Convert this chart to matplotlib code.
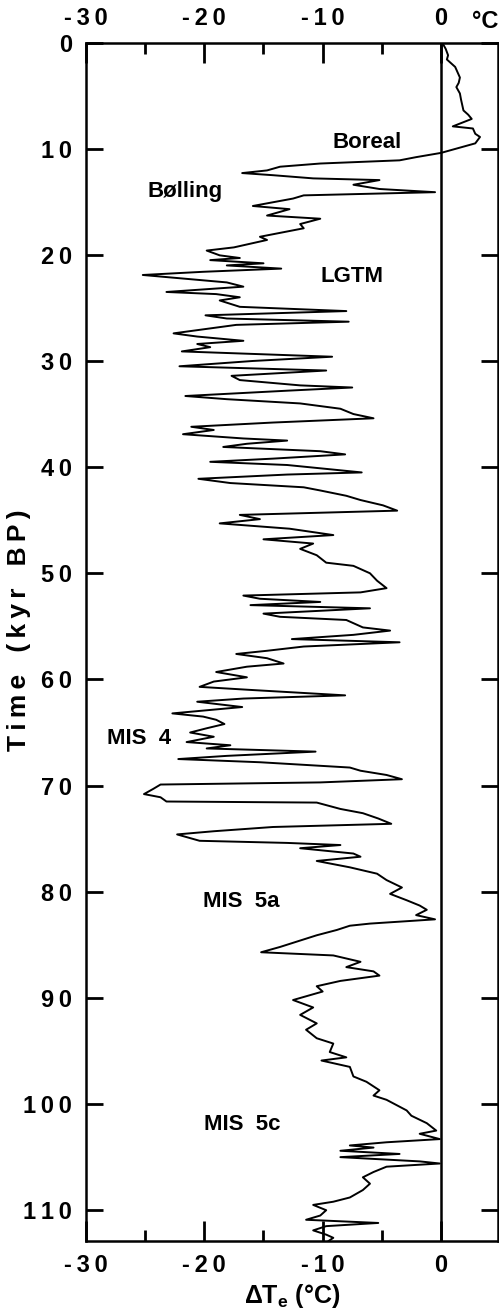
import matplotlib
matplotlib.use("Agg")
import matplotlib.pyplot as plt
from matplotlib.ticker import FixedLocator, FixedFormatter

# ---- data ----
time_kyr = [0.0, 0.6, 1.2, 1.6, 2.3, 2.8, 3.3, 3.8, 4.2, 4.8, 5.4, 5.9, 6.4, 6.8, 7.2, 7.9, 8.1, 8.6, 8.9, 9.5, 10.0, 10.4,
            10.8, 11.1, 11.4, 11.7, 12.05, 12.3, 12.5, 12.8, 12.96, 13.4, 13.8, 14.1, 14.4, 14.7, 15.4, 15.7, 16.3, 16.6,
            17.1, 17.5, 18.3, 18.6, 19.3, 19.6, 20.05, 20.3, 20.5, 20.8, 21.0, 21.3, 21.6, 21.9, 22.4, 22.6, 23.0,
            23.5, 23.7, 24.0, 24.3, 24.9, 25.3, 25.7, 26.0, 26.3, 26.6, 27.4, 27.7, 28.1, 28.4, 28.7, 29.1, 29.6, 30.0,
            30.5, 30.9, 31.4, 31.8, 32.3, 32.5, 32.8, 33.3, 33.6, 34.0, 34.5, 35.0, 35.4, 35.8, 36.2, 36.5, 36.9, 37.3,
            37.5, 37.8, 38.1, 38.5, 38.8, 39.2, 39.5, 39.8, 40.5, 40.7, 41.1, 41.5, 41.9, 42.2, 42.7, 43.1, 43.6, 44.1,
            44.5, 44.9, 45.3, 45.8,
            46.4, 46.8, 47.2, 47.7, 48.3, 49.0, 49.3, 50.0, 50.7, 51.4, 51.8, 52.1, 52.4, 52.7, 53.0, 53.3, 53.8, 54.1,
            54.4, 55.1, 55.4, 55.8, 56.2, 56.5, 56.9, 57.3, 57.6, 58.0, 58.5, 58.8, 59.3, 59.8, 60.2, 60.7, 61.0, 61.5,
            61.8, 62.1, 62.6, 63.2, 63.5, 63.8, 64.2, 64.6, 65.0, 65.4, 65.9, 66.2, 66.5, 66.8, 67.2, 67.5, 67.8, 68.3,
            68.6, 69.0, 69.4, 69.7, 69.9, 70.3, 70.8, 71.1, 71.5, 71.6, 72.2, 72.6, 73.1, 73.6, 73.9, 74.3, 74.6, 75.2,
            75.4, 75.6, 75.9, 76.4, 76.7, 77.1, 77.7, 78.3, 78.9, 79.6, 80.2, 80.8, 81.3, 81.7, 82.2, 82.6, 83.0, 83.2,
            83.6, 84.1, 84.6, 85.2, 85.7, 86.0, 86.6, 87.1, 87.5, 87.9, 88.4, 88.9, 89.4, 90.2, 90.9,
            91.6, 92.4, 93.0, 93.8, 94.3, 95.1, 95.6, 95.9, 96.5, 97.4, 97.9, 98.7, 99.2, 99.6, 100.6, 101.1, 101.8,
            102.5, 102.8, 103.3, 103.6, 103.9, 104.1, 104.4, 104.7, 105.0, 105.4, 105.6, 105.9, 106.4, 106.9, 107.5,
            108.1, 108.8, 109.2, 109.5, 110.0, 110.5, 110.9, 111.2, 111.5, 111.9, 112.3, 112.6, 112.9]
delta_te = [0.1, 0.4, 0.6, 0.5, 1.2, 1.4, 1.6, 1.5, 1.3, 1.6, 1.7, 1.8, 1.9, 2.3, 2.6, 1.0, 2.7, 2.9, 3.3, 2.9, 1.3, 0.0,
            -2.1, -3.5, -10.2, -13.6, -14.7, -16.8, -14.2, -10.8, -5.2, -7.4, -5.2, -0.5, -11.6, -12.5, -15.9, -12.8,
            -14.7, -10.2, -11.9, -11.6, -15.3, -14.7, -17.5, -19.8, -18.7, -17.0, -19.5, -15.0, -18.1, -13.5, -20.1,
            -25.2, -20.1, -18.1, -16.7,
            -23.2, -19.0, -17.0, -18.7, -17.0, -8.0, -19.9, -18.1, -7.8, -17.3, -22.6, -20.6, -16.7, -20.6, -19.5,
            -21.9, -9.2, -15.9, -22.1, -9.7, -17.7, -17.0, -11.9, -7.5, -13.0, -21.6, -18.1, -11.9, -8.5, -7.4, -5.7,
            -14.2, -21.1, -19.2, -21.8, -16.7, -13.0, -16.4, -18.4, -10.2, -8.1, -14.2, -19.5, -13.0, -6.7, -13.0,
            -20.5, -17.8, -11.6, -10.2, -8.0, -6.8, -4.9, -3.7, -17.0, -15.3, -18.7, -12.8,
            -9.1, -15.0, -10.8, -11.9, -10.5, -9.7, -7.4, -6.0, -5.4, -4.6, -6.8, -16.7, -15.3, -10.2, -16.1, -6.0,
            -15.0, -13.6, -8.0, -6.6, -4.3, -7.4, -12.6, -3.5, -11.6, -14.7, -17.3, -14.7, -13.3, -16.4, -19.0, -16.4,
            -19.2, -20.4, -15.9, -8.1, -16.7, -20.6, -16.8, -22.7, -20.1, -19.0, -18.3, -19.8, -21.2, -19.2, -21.5,
            -17.8, -19.8, -10.6, -18.1, -22.2, -15.3, -7.7,
            -6.8, -4.6, -3.3, -10.2, -23.7, -24.3, -25.1, -23.7, -23.2, -10.5, -8.5, -6.6, -5.3, -4.2, -14.2, -19.2,
            -22.3, -20.4, -13.0, -8.5, -11.9, -7.4, -6.8, -10.5, -7.7, -5.4, -4.6, -3.3, -4.3, -2.9, -1.8, -1.2, -2.1,
            -0.5, -6.0, -7.7, -8.8, -10.5, -11.9, -13.6, -15.2, -9.1, -6.8, -8.0, -5.7, -5.2, -8.5, -10.5, -10.0,
            -12.5, -10.8,
            -11.9, -10.5, -11.4, -10.5, -9.1, -9.4, -8.0, -10.1, -7.7, -7.4, -6.3, -5.2, -5.7, -4.6, -2.9, -2.5, -1.2,
            -0.4, -1.8, -0.1, -4.6, -7.7, -5.7, -8.5, -3.5, -8.5, -1.8, -0.1, -4.6, -5.7, -6.6, -6.0, -6.6, -7.7,
            -9.1, -10.8, -9.7, -10.2, -11.4, -5.3, -9.7, -10.8, -9.7, -9.1, -9.5]

x_major = [-30, -20, -10, 0]
x_minor = [-25, -15, -5]
x_labels = ["-30", "-20", "-10", "0"]
y_major = [0, 10, 20, 30, 40, 50, 60, 70, 80, 90, 100, 110]
y_labels = [str(v) for v in y_major]

annotations = [("Boreal", -6.2, 9.4), ("Bølling", -21.6, 14.0), ("LGTM", -7.5, 22.0),
               ("MIS  4", -25.5, 65.6), ("MIS  5a", -16.9, 80.9), ("MIS  5c", -16.8, 101.9)]

FAM = ["Liberation Sans", "DejaVu Sans"]
plt.rcParams["font.family"] = FAM
plt.rcParams["font.weight"] = "bold"

def spaced(s):
    return "\u2009".join(s)

W, H = 499, 1313
fig = plt.figure(figsize=(W / 100, H / 100), dpi=100)
left, right = 86 / W, 498 / W
top, bottom = 1 - 42.5 / H, 1 - 1241 / H
ax = fig.add_axes([left, bottom, right - left, top - bottom])

ax.plot(delta_te, time_kyr, color="black", lw=1.4)
ax.axvline(0, color="black", lw=1.8)

ax.set_xlim(-30, 4.82)
ax.set_ylim(112.9, 0)

for s in ax.spines.values():
    s.set_linewidth(1.8)

ax.xaxis.set_major_locator(FixedLocator(x_major))
ax.xaxis.set_major_formatter(FixedFormatter([spaced(l) for l in x_labels]))
ax.xaxis.set_minor_locator(FixedLocator(x_minor))
ax.yaxis.set_major_locator(FixedLocator(y_major))
ax.yaxis.set_major_formatter(FixedFormatter([spaced(l) for l in y_labels]))

ax.tick_params(axis="x", which="major", direction="in", length=14.5, width=2.0, top=True, bottom=True,
               labeltop=True, labelbottom=True, labelsize=17, pad=9)
ax.tick_params(axis="x", which="minor", direction="in", length=8, width=2.0, top=True, bottom=True)
ax.tick_params(axis="y", which="major", direction="in", length=12.5, width=2.0, left=True, right=True,
               labelleft=True, labelright=False, labelsize=17, pad=10)

for lab in ax.get_xticklabels() + ax.get_yticklabels():
    lab.set_fontweight("bold")

for txt, x, y in annotations:
    ax.text(x, y, txt, ha="center", va="center", fontsize=16, fontweight="bold")

fig.text(485 / W, 1 - 21 / H, "\u00b0C", ha="center", va="center", fontsize=17, fontweight="bold")

ax.set_xlabel("\u0394T$_{\\mathregular{e}}$ (\u00b0C)", fontsize=18, fontweight="bold", labelpad=4)
ax.set_ylabel(spaced("Time") + "   " + spaced("(kyr") + "   " + spaced("BP)"), fontsize=19, fontweight="bold")
ax.yaxis.set_label_coords((31 - 86) / 412, 0.51)

fig.savefig("out.png", dpi=100)
